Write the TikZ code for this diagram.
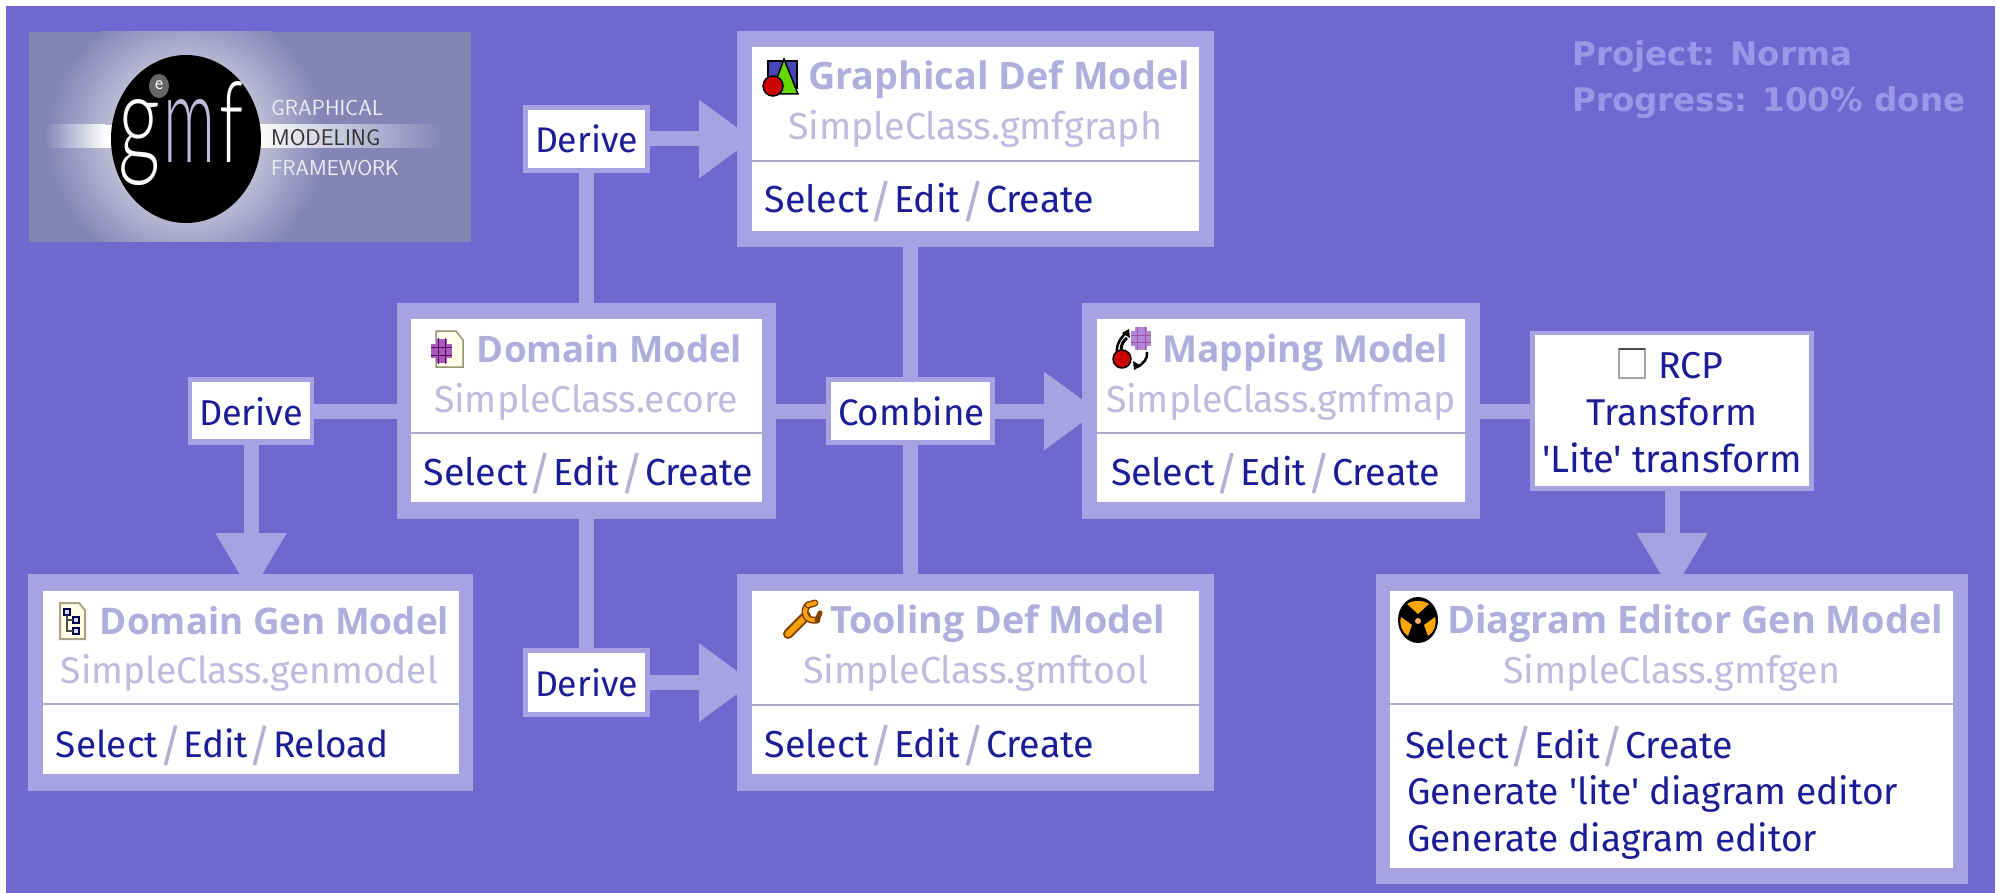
\documentclass[tikz,border=0pt]{standalone}
\usepackage{fontspec}
\usepackage{graphicx}
\usetikzlibrary{arrows.meta,calc}
\setmainfont[Ligatures=TeXOff]{Fira Sans}
\newfontfamily\thinf{Lato Light}
\newfontfamily\dejavu{DejaVu Sans}
\newfontfamily\ttlf{Open Sans}
\definecolor{bgc}{HTML}{7068CE}
\definecolor{lav}{HTML}{A8A2E2}
\definecolor{ttl}{HTML}{B0AEDC}
\definecolor{subc}{HTML}{BDBCDE}
\definecolor{act}{HTML}{1C1C96}
\definecolor{sl}{HTML}{B2B2D0}
\definecolor{prog}{HTML}{9C96E8}
\definecolor{logoc}{HTML}{8585B5}
\definecolor{gridp}{HTML}{A85CBC}
\definecolor{gridq}{HTML}{B088D4}
\newcommand\bx[6]{\node[#1, minimum width={#5-#3}, minimum height={#6-#4}] (#2) at ({(#3+#5)/2},{(#4+#6)/2}) {};}
% name, left, right, baseline, style, text fitted to the width
\newcommand\tx[6]{\node[#5] (#1) at ({(#2+#3)/2},#4) {\resizebox{\dimexpr#3pt-#2pt\relax}{!}{#6}};}
\newcommand\slsh{\kern1pt\raisebox{-0.12em}{\color{sl}\scalebox{1.2}{/}}\kern1pt}
\newcommand\SEC{Select\slsh Edit\slsh Create}
\tikzset{
  x=1pt,y=-1pt,
  blk/.style={inner sep=0pt,outer sep=0pt,rectangle},
  frame/.style={blk,fill=lav},
  white/.style={blk,fill=white},
  rulebar/.style={blk,fill=sl!90!gray},
  lnk/.style={draw=lav,line width=15pt},
  arrh/.style={lnk,-{Triangle[length=54pt,width=75pt,fill=lav]}},
  arrv/.style={lnk,-{Triangle[length=61pt,width=67pt,fill=lav]}},
  base/.style={anchor=base,inner sep=0pt,outer sep=0pt,font=\fontsize{36}{40}\selectfont},
  ttlt/.style={base,text=ttl,font=\fontsize{36}{40}\selectfont\ttlf\bfseries},
  subt/.style={base,text=subc},
  actt/.style={base,text=act},
  progt/.style={anchor=base west,inner sep=0pt,text=prog,font=\fontsize{36}{40}\selectfont\dejavu\bfseries},
  logot/.style={anchor=base west,inner sep=0pt,font=\fontsize{22}{24}\selectfont\sffamily},
  gmft/.style={anchor=base west,inner sep=0pt,font=\fontsize{128}{130}\selectfont\thinf},
  ol/.style={draw=black,line width=1.5pt},
}
\begin{document}
\begin{tikzpicture}
\useasboundingbox (0,0) rectangle (1999,893);
\fill[white] (0,0) rectangle (1999,893);
\bx{blk,fill=bgc}{bg}{6}{6}{1995}{893}

% logo
\bx{blk,fill=logoc}{logo}{29}{32}{471}{242}
\begin{scope}
\clip (logo.north west) rectangle (logo.south east);
\shade[inner color=white,outer color=logoc] (186,139) circle[radius=138];
\shade[left color=logoc,right color=white] (45,125) rectangle (105,148);
\fill[white] (105,125) rectangle (125,148);
\shade[left color=white,right color=logoc] (255,125) rectangle (442,148);
\end{scope}
\fill[black] (186,139) ellipse[x radius=75,y radius=84];
\node[gmft,text=white] (gg) at (118,163) {\resizebox{42pt}{63pt}{g}};
\node[gmft,text=subc] (gm) at (163,163) {\resizebox{52pt}{63pt}{m}};
\node[gmft,text=white] (gf) at (219,163) {\resizebox{24pt}{81pt}{f}};
\fill[black!60] (159,86) ellipse[x radius=10,y radius=12];
\node[inner sep=0pt,text=white,font=\fontsize{20}{20}\selectfont\sffamily] (elogo) at (159,85) {e};
\node[logot,text=white!85!logoc] (lg1) at (271,116) {\resizebox{112pt}{!}{GRAPHICAL}};
\node[logot,text=black!80] (lg2) at (271,146) {\resizebox{109pt}{!}{MODELING}};
\node[logot,text=white!85!logoc] (lg3) at (271,176) {\resizebox{128pt}{!}{FRAMEWORK}};

% boxes
\bx{frame}{graph}{737}{31}{1214}{247}
\bx{frame}{tool}{737}{574}{1214}{791}
\bx{frame}{domain}{397}{303}{776}{519}
\bx{frame}{mapping}{1082}{303}{1480}{519}
\bx{frame}{dgen}{28}{574}{473}{791}
\bx{frame}{gen}{1376}{574}{1968}{884}
\bx{frame}{rcp}{1530}{331}{1814}{491}
\bx{frame}{dt}{523}{105}{650}{173}
\bx{frame}{db}{523}{648}{650}{717}
\bx{frame}{dl}{188}{377}{314}{445}
\bx{frame}{comb}{826}{377}{995}{445}

% connectors (arrow tips run under the white panels)
\draw[lnk] (dt.south) -- (dt.south |- domain.north);
\draw[arrh] (dt.east) -- ($(dt.east -| graph.west)+(16,0)$);
\draw[lnk] (db.north) -- (db.north |- domain.south);
\draw[arrh] (db.east) -- ($(db.east -| tool.west)+(16,0)$);
\draw[lnk] (dl.east) -- (dl.east -| domain.west);
\draw[arrv] (dl.south) -- ($(dl.south |- dgen.north)+(0,20)$);
\draw[lnk] (domain.east |- comb.west) -- (comb.west);
\draw[lnk] (comb.north) -- (comb.north |- graph.south);
\draw[lnk] (comb.south) -- (comb.south |- tool.north);
\draw[arrh] (comb.east) -- ($(comb.east -| mapping.west)+(16,0)$);
\draw[lnk] (mapping.east |- rcp.west) -- (rcp.west);
\draw[arrv] (rcp.south) -- ($(rcp.south |- gen.north)+(0,20)$);

% white panels
\bx{white}{graphi}{752}{47}{1199}{231}
\bx{white}{tooli}{752}{591}{1199}{774}
\bx{white}{domaini}{411}{319}{762}{502}
\bx{white}{mappingi}{1097}{319}{1465}{502}
\bx{white}{dgeni}{43}{591}{459}{774}
\bx{white}{geni}{1390}{591}{1953}{868}
\bx{white}{rcpi}{1535}{335}{1809}{486}
\bx{white}{dti}{528}{110}{645}{168}
\bx{white}{dbi}{528}{653}{645}{712}
\bx{white}{dli}{192}{382}{310}{439}
\bx{white}{combi}{831}{382}{990}{440}
% dividers
\bx{rulebar}{r1}{752}{160}{1199}{162}
\bx{rulebar}{r2}{752}{704}{1199}{706}
\bx{rulebar}{r3}{411}{432}{762}{434}
\bx{rulebar}{r4}{1097}{432}{1465}{434}
\bx{rulebar}{r5}{43}{703}{459}{705}
\bx{rulebar}{r6}{1390}{703}{1953}{705}

% texts
\tx{t1}{808}{1190}{90}{ttlt}{Graphical Def Model}
\tx{s1}{788}{1162}{140}{subt}{SimpleClass.gmfgraph}
\tx{a1}{765}{1094}{213}{actt}{\SEC}
\tx{t2}{830}{1165}{633}{ttlt}{Tooling Def Model}
\tx{s2}{803}{1148}{683}{subt}{SimpleClass.gmftool}
\tx{a2}{765}{1094}{757}{actt}{\SEC}
\tx{t3}{477}{742}{362}{ttlt}{Domain Model}
\tx{s3}{434}{738}{412}{subt}{SimpleClass.ecore}
\tx{a3}{424}{753}{485}{actt}{\SEC}
\tx{t4}{1162}{1448}{362}{ttlt}{Mapping Model}
\tx{s4}{1106}{1456}{412}{subt}{SimpleClass.gmfmap}
\tx{a4}{1111}{1440}{485}{actt}{\SEC}
\tx{t5}{100}{449}{634}{ttlt}{Domain Gen Model}
\tx{s5}{61}{438}{683}{subt}{SimpleClass.genmodel}
\tx{a5}{56}{389}{757}{actt}{Select\slsh Edit\slsh Reload}
\tx{t6}{1447}{1943}{633}{ttlt}{Diagram Editor Gen Model}
\tx{s6}{1503}{1840}{683}{subt}{SimpleClass.gmfgen}
\tx{a6}{1405}{1733}{758}{actt}{\SEC}
\tx{a6b}{1407}{1898}{804}{actt}{Generate 'lite' diagram editor}
\tx{a6c}{1407}{1817}{851}{actt}{Generate diagram editor}
\tx{d1}{535}{638}{153}{actt}{Derive}
\tx{d2}{535}{638}{696}{actt}{Derive}
\tx{d3}{199}{303}{425}{actt}{Derive}
\tx{c1}{838}{985}{425}{actt}{Combine}
\tx{r1t}{1658}{1723}{378}{actt}{RCP}
\tx{r2t}{1586}{1757}{425}{actt}{Transform}
\tx{r3t}{1542}{1802}{472}{actt}{'Lite' transform}
\node[progt] (p1) at (1572,66) {\resizebox{280pt}{!}{Project: Norma}};
\node[progt] (p2) at (1572,112) {\resizebox{393pt}{!}{Progress: 100\% done}};

% checkbox
\draw[draw=gray!70,fill=white,line width=1.5pt] (1619,349) rectangle (1645,378);
\draw[black!70,line width=2pt] (1619,349) -- (1645,349);

% domain icon
\draw[fill=white!92!yellow,draw=black!55!olive!60,line width=1.5pt] (436,331) -- (456,331) -- (463,340) -- (463,367) -- (436,367) -- cycle;
\fill[gridp] (431,344) rectangle (452,358);
\fill[gridp] (436,339) rectangle (447,363);
\draw[violet!70!black,line width=1pt] (431,347) -- (452,347) (431,355) -- (452,355) (438,338) -- (438,364) (445,338) -- (445,364);

% domain gen icon
\draw[fill=white!90!yellow,draw=black!60!olive!50,line width=2pt] (60,603) -- (79,603) -- (85,610) -- (85,639) -- (60,639) -- cycle;
\draw[black!70!blue,line width=1.2pt,fill=blue!15] (64,609) rectangle (70,615) (73,617) rectangle (79,623) (73,628) rectangle (79,634);
\draw[black!70,line width=1.2pt] (67,615) -- (67,631) -- (73,631) (67,620) -- (73,620);

% graphical icon
\fill[blue!45!gray] (768,61) rectangle (797,88);
\draw[ol] (768,61) rectangle (797,88);
\draw[ol,fill=green!55!yellow!85!black] (784,59) -- (771,94) -- (798,94) -- cycle;
\draw[ol,fill=red!80!black] (773,86) circle[radius=10];

% wrench
\draw[black!50!orange,line width=10pt,line cap=round] (788,634) -- (806,616);
\draw[orange!70!yellow!85!brown,line width=6pt,line cap=round] (788,634) -- (806,616);
\draw[black!50!orange,line width=7pt,line cap=round] (808,605) .. controls (802,611) and (805,622) .. (817,620);
\draw[orange!70!yellow!85!brown,line width=4pt,line cap=round] (808,605) .. controls (802,611) and (805,622) .. (817,620);
\draw[black!50!orange,line width=7pt,line cap=round] (808,605) -- (815,603);
\draw[orange!70!yellow!85!brown,line width=4pt,line cap=round] (808,605) -- (815,603);
\draw[black!50!orange,line width=5pt,line cap=round] (817,620) -- (820,613);

% mapping icon
\draw[black,line width=2.5pt] (1117,353) .. controls (1116,345) and (1120,338) .. (1127,332);
\fill[black] (1129,329) -- (1130,338) -- (1122,333) -- cycle;
\draw[black,line width=2.5pt] (1147,352) .. controls (1148,359) and (1143,364) .. (1137,367);
\fill[black] (1134,370) -- (1133,361) -- (1141,366) -- cycle;
\draw[white,line width=3pt] (1121,351) .. controls (1121,345) and (1123,341) .. (1127,338);
\draw[ol,fill=red!80!black] (1122,359) circle[radius=9];
\fill[gridq] (1131,331) rectangle (1151,346);
\fill[gridq] (1135,327) rectangle (1147,350);
\draw[violet!70,line width=1pt] (1131,335) -- (1151,335) (1131,342) -- (1151,342) (1137,327) -- (1137,350) (1145,327) -- (1145,350);

% diagram icon
\fill[black] (1418,620) ellipse[x radius=20,y radius=23];
\fill[orange!70!yellow] (1418,614) -- (1407,604) .. controls (1412,600) and (1424,600) .. (1429,604) -- cycle;
\fill[orange!70!yellow] (1412,625) -- (1401,617) .. controls (1399,625) and (1402,632) .. (1408,636) -- cycle;
\fill[orange!70!yellow] (1424,625) -- (1435,617) .. controls (1437,625) and (1434,632) .. (1428,636) -- cycle;
\fill[orange!60!white] (1418,621) circle[radius=3];
\end{tikzpicture}
\end{document}
